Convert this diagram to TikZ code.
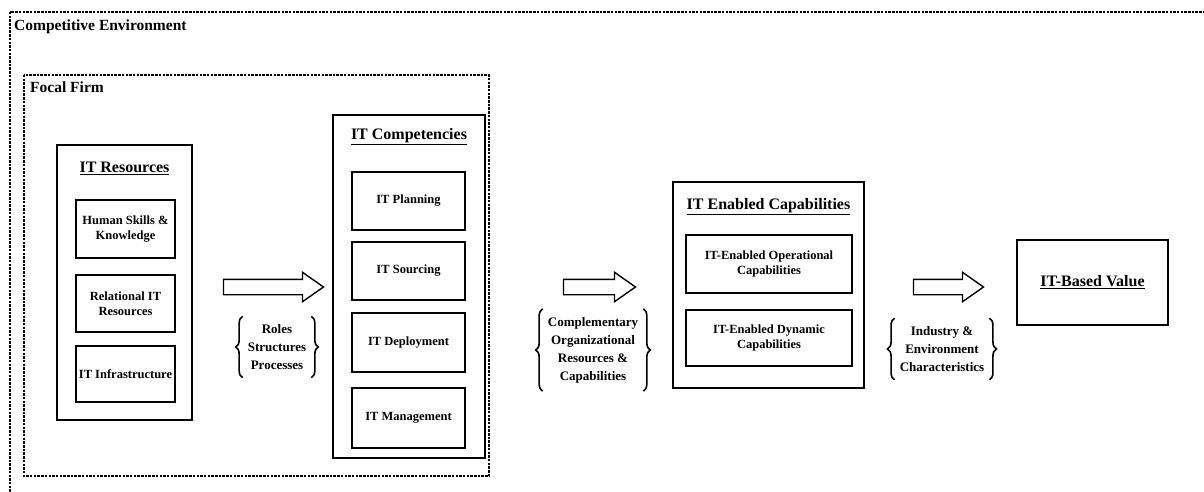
\documentclass[tikz,border=0pt]{standalone}
\usepackage{fontspec}
\setmainfont{Liberation Serif}
\usetikzlibrary{shapes.arrows, decorations.pathreplacing}
\tikzset{>=latex}

\begin{document}
\begin{tikzpicture}[x=1pt, y=-1pt,
  area/.style={draw, line width=1.3pt, dash pattern=on 2.5pt off 1.2pt},
  areatitle/.style={anchor=west, inner sep=0pt, font=\bfseries\fontsize{15.5}{18}\selectfont},
  group/.style={draw, line width=1.4pt, inner sep=0pt},
  item/.style={draw, line width=1.3pt, align=center, inner sep=1pt, font=\bfseries\fontsize{12.5}{15.5}\selectfont},
  heading/.style={font=\bfseries\fontsize{16}{19}\selectfont},
  fatarrow/.style={single arrow, draw, line width=1.4pt, inner sep=7pt, single arrow head extend=7pt, single arrow tip angle=70, minimum height=#1},
  note/.style={align=center, inner sep=0pt, font=\bfseries\fontsize{13}{18}\selectfont},
  bracket/.style={decorate, decoration={brace, amplitude=7pt}, line width=1.6pt}
]
\useasboundingbox (0,0) rectangle (1204,492);
\clip (0,0) rectangle (1204,492);

% surroundings
\draw[area] (10,12) rectangle (1230,520);
\node[areatitle] (envT) at (14,27) {Competitive Environment};
\draw[area] (24,75) rectangle (489,476);
\node[areatitle] (firmT) at (30,87) {Focal Firm};

% IT resources
\node[group, minimum width=135pt, minimum height=275pt] (res) at (124.5,282.5) {};
\node[heading] (resT) at (124.5,168) {\underline{IT Resources}};
\node[item, minimum width=99pt, minimum height=58pt] (hsk) at (125.5,229) {Human Skills \&\\Knowledge};
\node[item, minimum width=99pt, minimum height=57pt] (rel) at (125.5,303.5) {Relational IT\\Resources};
\node[item, minimum width=99pt, minimum height=56pt] (inf) at (125.5,374) {IT Infrastructure};

% IT competencies
\node[group, minimum width=152pt, minimum height=343pt] (comp) at (409,286.5) {};
\node[heading] (compT) at (409,137) {\underline{IT Competencies}};
\node[item, minimum width=113pt, minimum height=58pt] (plan) at (408.5,201) {IT Planning};
\node[item, minimum width=113pt, minimum height=58pt] (src) at (408.5,271) {IT Sourcing};
\node[item, minimum width=113pt, minimum height=59pt] (dep) at (408.5,342.5) {IT Deployment};
\node[item, minimum width=113pt, minimum height=60pt] (mgt) at (408.5,418) {IT Management};

% IT enabled capabilities
\node[group, minimum width=191pt, minimum height=206pt] (cap) at (768.5,285) {};
\node[heading] (capT) at (768.5,207) {\underline{IT Enabled Capabilities}};
\node[item, minimum width=166pt, minimum height=58pt] (opc) at (769,264) {IT-Enabled Operational\\Capabilities};
\node[item, minimum width=166pt, minimum height=56pt] (dyc) at (769,338) {IT-Enabled Dynamic\\Capabilities};

% IT-based value
\node[group, minimum width=151pt, minimum height=85pt, heading] (val) at (1092.5,282.5) {\underline{IT-Based Value}};

% arrows
\node[fatarrow=100pt] (arr1) at (268,287) {};
\node[fatarrow=72pt] (arr2) at (594,287) {};
\node[fatarrow=70pt] (arr3) at (943,287) {};

% braced notes
\node[note] (rsp) at (277,347) {Roles\\Structures\\Processes};
\node[note] (cor) at (593,350) {Complementary\\Organizational\\Resources \&\\Capabilities};
\node[note] (iec) at (942,349) {Industry \&\\Environment\\Characteristics};
\foreach \n in {rsp, cor, iec} {
  \draw[bracket] ([shift={(-5pt,-8pt)}]\n.south west) -- ([shift={(-5pt,8pt)}]\n.north west);
  \draw[bracket] ([shift={(5pt,8pt)}]\n.north east) -- ([shift={(5pt,-8pt)}]\n.south east);
}
\end{tikzpicture}
\end{document}
